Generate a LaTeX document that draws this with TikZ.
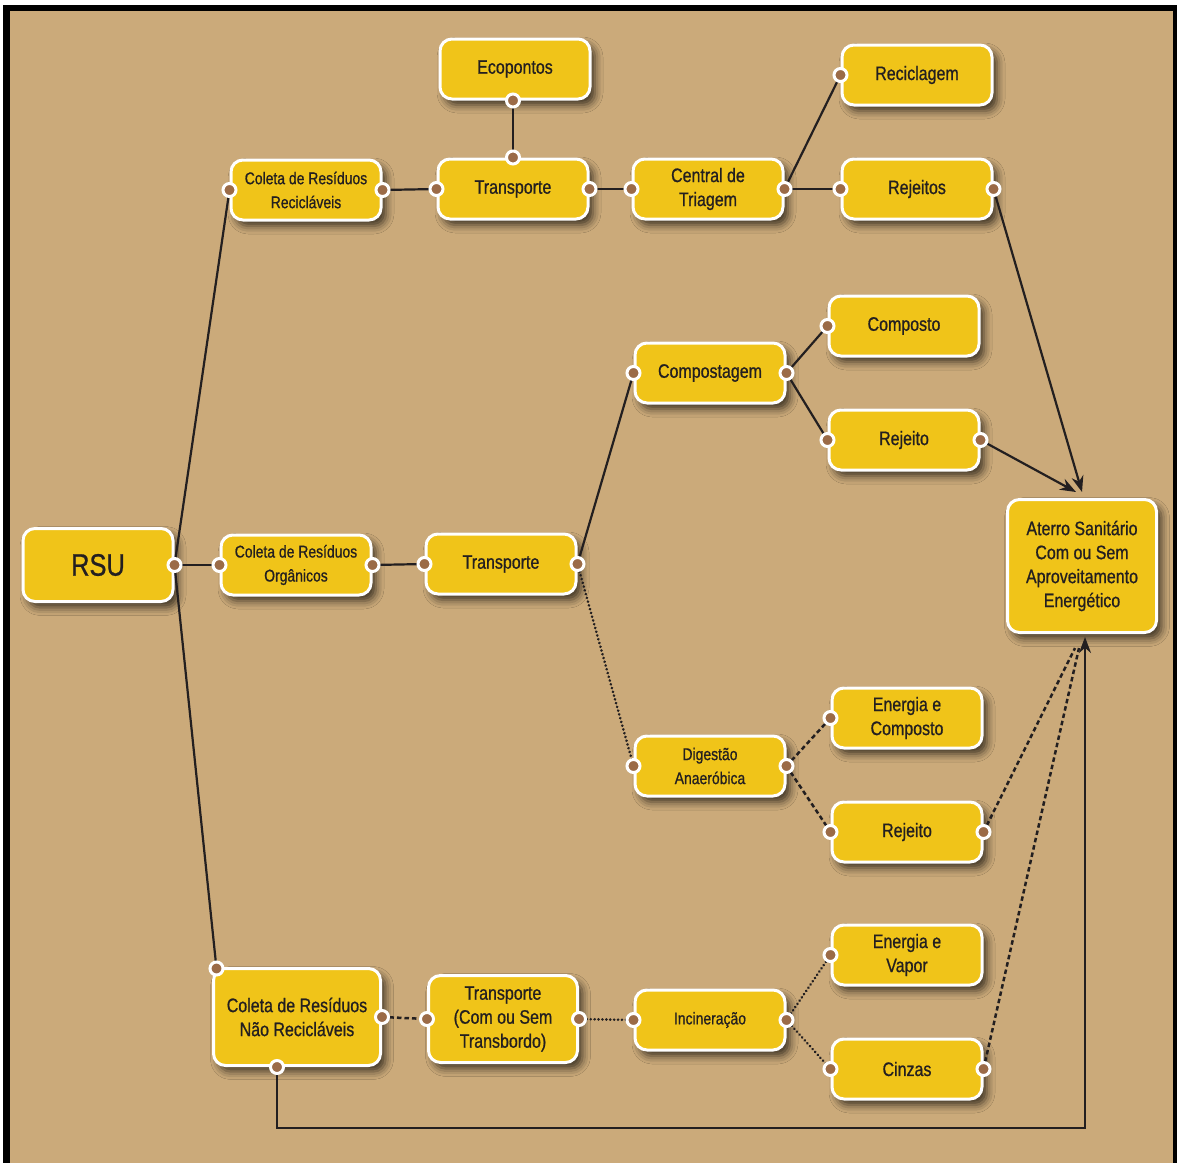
\documentclass[tikz,border=0pt]{standalone}
\usepackage{fontspec}
\setmainfont[FakeStretch=0.82,FakeBold=0.8]{Liberation Sans}
\usetikzlibrary{arrows.meta,shadows.blur}
\definecolor{paper}{HTML}{CBAA7A}
\definecolor{boxyellow}{HTML}{F0C419}
\definecolor{ink}{HTML}{231F20}
\definecolor{plug}{HTML}{9B6B47}
\begin{document}
\begin{tikzpicture}[x=1pt,y=-1pt,
  box/.style={draw=white, line width=3pt, fill=boxyellow, rounded corners=12pt,
    minimum width=150pt, minimum height=60pt, align=center, text=ink, inner sep=2pt,
    font=\fontsize{19.5}{24}\selectfont,
    blur shadow={shadow xshift=5pt, shadow yshift=-6pt, shadow blur radius=8pt, shadow opacity=70}},
  smalltext/.style={font=\fontsize{17}{24}\selectfont},
  plugdot/.style={circle, fill=plug, draw=white, line width=3pt, minimum size=13pt, inner sep=0pt},
  wire/.style={draw=ink, line width=2.2pt},
  dotwire/.style={wire, line cap=round, dash pattern=on 0.1pt off 3.8pt, line width=2.8pt},
  dashwire/.style={wire, line width=2.5pt, dash pattern=on 4.5pt off 3pt},
  arrowwire/.style={wire, -{Stealth[length=16pt,width=12pt]}},
]
\useasboundingbox (0,0) rectangle (1177,1165);
% frame and backdrop
\fill[white] (0,0) rectangle (1177,1165);
\fill[black] (3,5) rectangle (1177,1163);
\fill[paper] (10,11) rectangle (1173,1163);

% boxes
\node[box, minimum width=150pt, minimum height=73pt, font=\fontsize{31}{36}\selectfont] (rsu) at (98,565) {RSU};

\node[box, smalltext] (crec) at (306,190) {Coleta de Resíduos\\Recicláveis};
\node[box] (eco) at (515,69) {Ecopontos};
\node[box] (tr1) at (513,189) {Transporte};
\node[box] (cen) at (708,189) {Central de\\Triagem};
\node[box] (rec) at (917,75) {Reciclagem};
\node[box] (rej) at (917,189) {Rejeitos};

\node[box, smalltext] (corg) at (296,565) {Coleta de Resíduos\\Orgânicos};
\node[box] (tr2) at (501,564) {Transporte};
\node[box] (comp) at (710,373) {Compostagem};
\node[box] (cpt) at (904,326) {Composto};
\node[box] (rj1) at (904,440) {Rejeito};
\node[box, smalltext] (dig) at (710,766) {Digestão\\Anaeróbica};
\node[box] (enc) at (907,718) {Energia e\\Composto};
\node[box] (rj2) at (907,832) {Rejeito};

\node[box, minimum width=167pt, minimum height=97pt] (cnr) at (297,1017) {Coleta de Resíduos\\Não Recicláveis};
\node[box, minimum width=149pt, minimum height=87pt] (tr3) at (503,1019) {Transporte\\(Com ou Sem\\Transbordo)};
\node[box, smalltext] (inc) at (710,1020) {Incineração};
\node[box] (env) at (907,955) {Energia e\\Vapor};
\node[box] (cin) at (907,1069) {Cinzas};

\node[box, minimum width=149pt, minimum height=133pt] (ate) at (1082,566) {Aterro Sanitário\\Com ou Sem\\Aproveitamento\\Energético};

% connection points
\coordinate (p-rsu) at (rsu.east);
\coordinate (p-crec-w) at (crec.west);
\coordinate (p-crec-e) at (crec.east);
\coordinate (p-eco-s) at ([xshift=-2pt]eco.south);
\coordinate (p-tr1-n) at (tr1.north);
\coordinate (p-tr1-w) at (tr1.west);
\coordinate (p-tr1-e) at (tr1.east);
\coordinate (p-cen-w) at (cen.west);
\coordinate (p-cen-e) at (cen.east);
\coordinate (p-rec-w) at (rec.west);
\coordinate (p-rej-w) at (rej.west);
\coordinate (p-rej-e) at (rej.east);
\coordinate (p-corg-w) at (corg.west);
\coordinate (p-corg-e) at (corg.east);
\coordinate (p-tr2-w) at (tr2.west);
\coordinate (p-tr2-e) at (tr2.east);
\coordinate (p-comp-w) at (comp.west);
\coordinate (p-comp-e) at (comp.east);
\coordinate (p-cpt-w) at (cpt.west);
\coordinate (p-rj1-w) at (rj1.west);
\coordinate (p-rj1-e) at (rj1.east);
\coordinate (p-dig-w) at (dig.west);
\coordinate (p-dig-e) at (dig.east);
\coordinate (p-enc-w) at (enc.west);
\coordinate (p-rj2-w) at (rj2.west);
\coordinate (p-rj2-e) at (rj2.east);
\coordinate (p-cnr-t) at ([xshift=4.5pt,yshift=-1.5pt]cnr.north west);
\coordinate (p-cnr-e) at (cnr.east);
\coordinate (p-cnr-b) at ([xshift=-20pt]cnr.south);
\coordinate (p-tr3-w) at (tr3.west);
\coordinate (p-tr3-e) at (tr3.east);
\coordinate (p-inc-w) at (inc.west);
\coordinate (p-inc-e) at (inc.east);
\coordinate (p-env-w) at (env.west);
\coordinate (p-cin-w) at (cin.west);
\coordinate (p-cin-e) at (cin.east);

% landfill inlets
\coordinate (in-a) at ([yshift=6pt]ate.north);
\coordinate (in-b) at ([xshift=-6pt,yshift=6pt]ate.north);
\coordinate (in-c) at ([xshift=-7pt,yshift=-14pt]ate.south);
\coordinate (in-d) at ([xshift=-3pt,yshift=-14pt]ate.south);
\coordinate (in-e) at ([xshift=3pt,yshift=-3pt]ate.south);
\coordinate (turn) at (1085,1128);

% connectors
\draw[wire] (p-rsu) -- (p-crec-w);
\draw[wire] (p-rsu) -- (p-corg-w);
\draw[wire] (p-rsu) -- (p-cnr-t);

\draw[wire] (p-crec-e) -- (p-tr1-w);
\draw[wire] (p-eco-s) -- (p-tr1-n);
\draw[wire] (p-tr1-e) -- (p-cen-w);
\draw[wire] (p-cen-e) -- (p-rec-w);
\draw[wire] (p-cen-e) -- (p-rej-w);
\draw[arrowwire] (p-rej-e) -- (in-a);

\draw[wire] (p-corg-e) -- (p-tr2-w);
\draw[wire] (p-tr2-e) -- (p-comp-w);
\draw[dotwire] (p-tr2-e) -- (p-dig-w);
\draw[wire] (p-comp-e) -- (p-cpt-w);
\draw[wire] (p-comp-e) -- (p-rj1-w);
\draw[arrowwire] (p-rj1-e) -- (in-b);

\draw[dashwire] (p-dig-e) -- (p-enc-w);
\draw[dashwire] (p-dig-e) -- (p-rj2-w);
\draw[dashwire] (p-rj2-e) -- (in-c);

\draw[dashwire] (p-cnr-e) -- (p-tr3-w);
\draw[dotwire] (p-tr3-e) -- (p-inc-w);
\draw[dotwire] (p-inc-e) -- (p-env-w);
\draw[dotwire] (p-inc-e) -- (p-cin-w);
\draw[dashwire] (p-cin-e) -- (in-d);

\draw[arrowwire] (p-cnr-b) |- (turn) -- (in-e);

% plug dots on the box edges
\foreach \p in {p-rsu,p-crec-w,p-crec-e,p-eco-s,p-tr1-n,p-tr1-w,p-tr1-e,p-cen-w,p-cen-e,
  p-rec-w,p-rej-w,p-rej-e,p-corg-w,p-corg-e,p-tr2-w,p-tr2-e,p-comp-w,p-comp-e,p-cpt-w,
  p-rj1-w,p-rj1-e,p-dig-w,p-dig-e,p-enc-w,p-rj2-w,p-rj2-e,p-cnr-t,p-cnr-e,p-cnr-b,
  p-tr3-w,p-tr3-e,p-inc-w,p-inc-e,p-env-w,p-cin-w,p-cin-e}
  \node[plugdot] (dot-\p) at (\p) {};
\end{tikzpicture}
\end{document}
